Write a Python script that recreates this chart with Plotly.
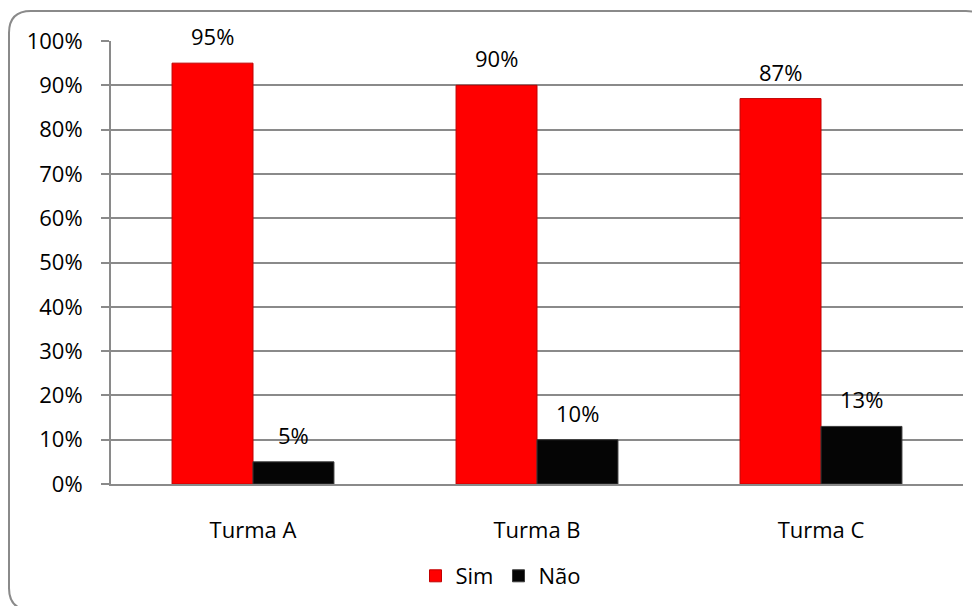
import plotly.graph_objects as go

categories = ["Turma A", "Turma B", "Turma C"]
sim = [95, 90, 87]
nao = [5, 10, 13]
y_ticks = [0, 10, 20, 30, 40, 50, 60, 70, 80, 90, 100]
y_labels = [f"{v}%" for v in y_ticks]

OFF = 8  # page body margin
W, H = 980 - OFF, 606 - OFF
L, R, T, B = 111 - OFF, 17, 41 - OFF, 122
pw, ph = W - L - R, H - T - B
FONT = "Open Sans"
FS = 22

fig = go.Figure()
fig.add_trace(go.Bar(name="Sim", x=categories, y=sim,
                     marker=dict(color="#FF0000", line=dict(color="#C00000", width=1))))
fig.add_trace(go.Bar(name="Não", x=categories, y=nao,
                     marker=dict(color="#050505", line=dict(color="#3a3a3a", width=1))))

half = pw / 3 * (1 - 0.43) / 4
for series, sh in ((sim, -half), (nao, half)):
    for c, v in zip(categories, series):
        fig.add_annotation(x=c, y=v, xref="x", yref="y", text=f"{v}%",
                           showarrow=False, xshift=sh, yshift=27, yanchor="middle",
                           font=dict(family=FONT, size=FS, color="#000"))

def P(x, y):
    x -= OFF
    y -= OFF
    return f"{(x - L) / pw:.5f},{(H - B - y) / ph:.5f}"

x0, y0, x1, y1, r = 9, 11, 988, 610, 22
path = (f"M {P(x0 + r, y0)} L {P(x1 - r, y0)} Q {P(x1, y0)} {P(x1, y0 + r)} "
        f"L {P(x1, y1 - r)} Q {P(x1, y1)} {P(x1 - r, y1)} "
        f"L {P(x0 + r, y1)} Q {P(x0, y1)} {P(x0, y1 - r)} "
        f"L {P(x0, y0 + r)} Q {P(x0, y0)} {P(x0 + r, y0)} Z")
fig.add_shape(type="path", path=path, xref="paper", yref="paper",
              line=dict(color="#8a8a8a", width=2), layer="below")

fig.update_layout(
    width=W, height=H,
    margin=dict(l=L, r=R, t=T, b=B, pad=0, autoexpand=False),
    paper_bgcolor="white", plot_bgcolor="white",
    barmode="group", bargap=0.43, bargroupgap=0,
    font=dict(family=FONT, size=FS, color="#000"),
    showlegend=True,
    legend=dict(orientation="h", x=(501 - OFF - L) / pw, xanchor="center",
                y=(H - B - (576 - OFF)) / ph, yanchor="middle",
                font=dict(family=FONT, size=FS), itemwidth=30,
                traceorder="normal", bgcolor="rgba(0,0,0,0)"),
    xaxis=dict(showline=True, linecolor="#8a8a8a", linewidth=2,
               ticks="", ticklabelstandoff=26, showgrid=False),
    yaxis=dict(range=[0, 100], tickvals=y_ticks, ticktext=y_labels,
               showline=True, linecolor="#8a8a8a", linewidth=2,
               ticks="outside", ticklen=8, tickcolor="#8a8a8a", tickwidth=2,
               ticklabelstandoff=14,
               showgrid=True, gridcolor="#8a8a8a", gridwidth=2, zeroline=False),
)

fig.write_html("out.html")
